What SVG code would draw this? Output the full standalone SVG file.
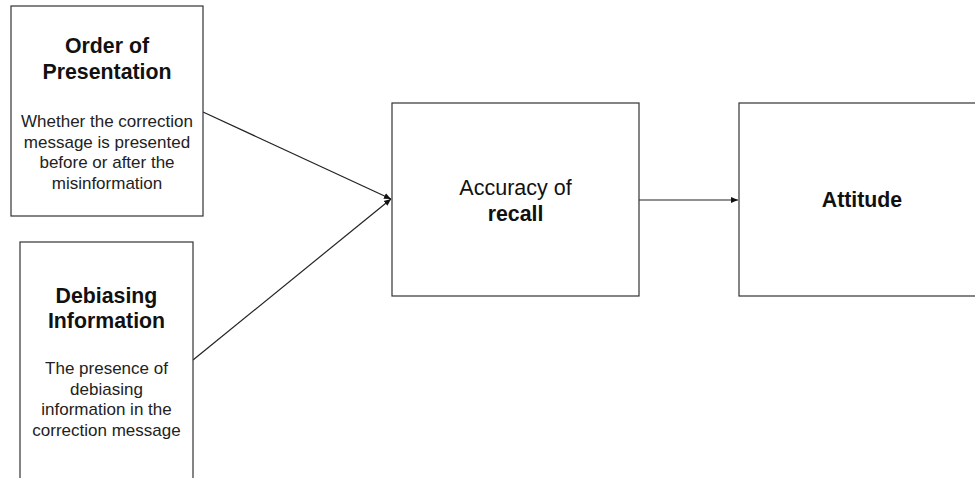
<svg xmlns="http://www.w3.org/2000/svg" width="975" height="478" viewBox="0 0 975 478">
<defs>
<style>
.box{fill:#fff;stroke:#333;stroke-width:1.2}
.t{font-family:"Liberation Sans",Arial,sans-serif;fill:#111;text-anchor:middle}
.b{font-weight:bold;font-size:21.3px}
.r{font-size:17px;fill:#222}
.m{font-size:21.5px}
.c{stroke:#222;stroke-width:1.2;fill:none}
</style>
<marker id="ah" markerWidth="8" markerHeight="8" refX="7" refY="4" orient="auto" markerUnits="userSpaceOnUse">
<path d="M0,1 L7,4 L0,7 z" fill="#111"/>
</marker>
</defs>
<rect width="975" height="478" fill="#fff"/>
<g id="connectors">
<line class="c" x1="203" y1="112" x2="391" y2="199" marker-end="url(#ah)"/>
<line class="c" x1="193" y1="360" x2="391" y2="199" marker-end="url(#ah)"/>
<line class="c" x1="639" y1="200" x2="738" y2="200" marker-end="url(#ah)"/>
</g>
<g id="order">
<rect class="box" x="11" y="6" width="192" height="210"/>
<text class="t b" x="107" y="53">Order of</text>
<text class="t b" x="107" y="79">Presentation</text>
<text class="t r" x="107" y="127">Whether the correction</text>
<text class="t r" x="107" y="148">message is presented</text>
<text class="t r" x="107" y="168">before or after the</text>
<text class="t r" x="107" y="189">misinformation</text>
</g>
<g id="debiasing">
<rect class="box" x="20" y="242" width="173" height="250"/>
<text class="t b" x="106.5" y="303">Debiasing</text>
<text class="t b" x="106.5" y="328">Information</text>
<text class="t r" x="106.5" y="374">The presence of</text>
<text class="t r" x="106.5" y="395">debiasing</text>
<text class="t r" x="106.5" y="415">information in the</text>
<text class="t r" x="106.5" y="436">correction message</text>
</g>
<g id="accuracy">
<rect class="box" x="392" y="103" width="247" height="193"/>
<text class="t m" x="515.5" y="195">Accuracy of</text>
<text class="t b" x="515.5" y="221">recall</text>
</g>
<g id="attitude">
<rect class="box" x="739" y="103" width="250" height="193"/>
<text class="t b" x="862" y="207">Attitude</text>
</g>
</svg>
